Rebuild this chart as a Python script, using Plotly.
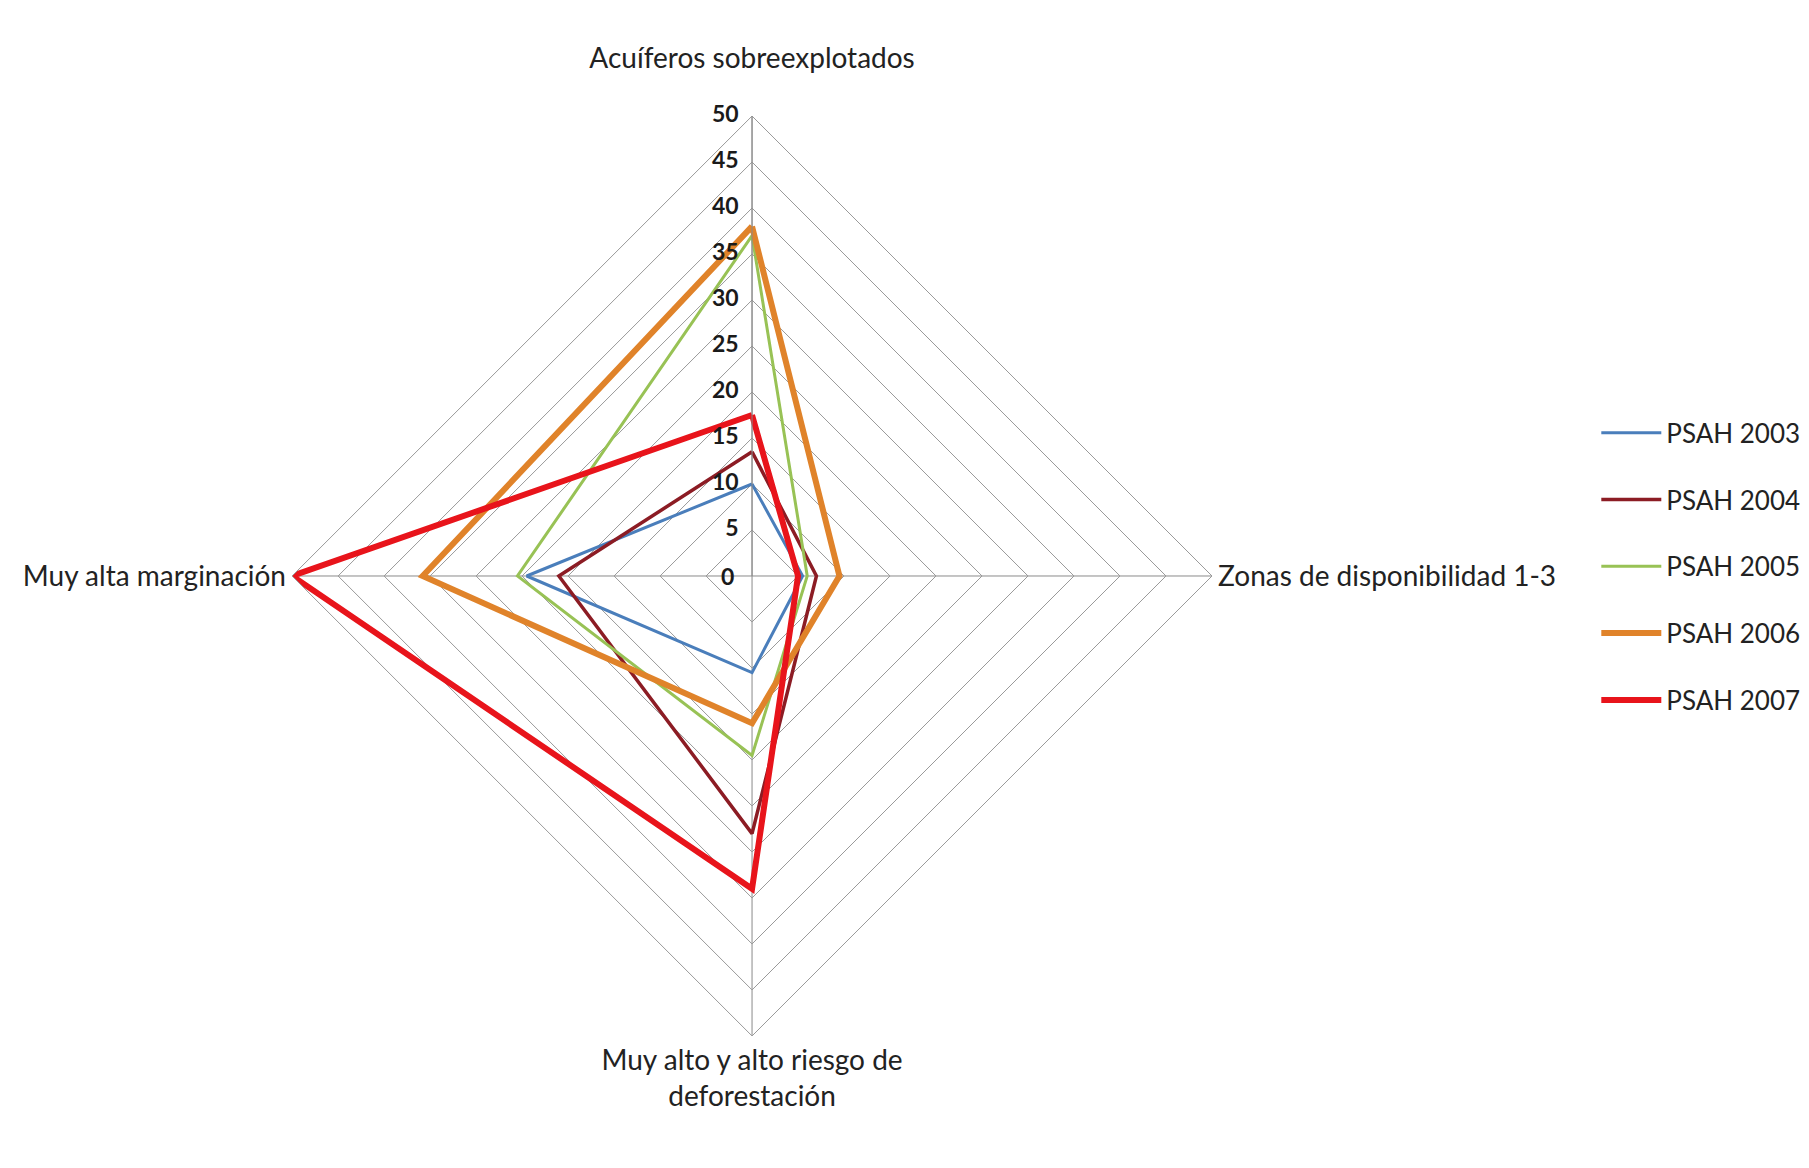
"""Radar chart: PSAH 2003-2007 by criterion."""

import plotly.graph_objects as go

CATEGORIES = [
    "Acuíferos sobreexplotados<br> ",
    "Zonas de disponibilidad 1-3",
    "Muy alto y alto riesgo de<br>deforestación",
    "Muy alta marginación",
]

SERIES_NAMES = ["PSAH 2003", "PSAH 2004", "PSAH 2005", "PSAH 2006", "PSAH 2007"]
PSAH_2003 = [10, 5.5, 10.5, 24.5]
PSAH_2004 = [13.5, 7, 28, 21]
PSAH_2005 = [37, 6, 19.5, 25.5]
PSAH_2006 = [38, 9.5, 16, 35.8]
PSAH_2007 = [17.5, 5, 34, 50]

RADIAL_TICKS = list(range(0, 55, 5))

COLORS = ["#4A7EBB", "#8C1C24", "#98C255", "#E0832A", "#E8141B"]
WIDTHS = [3, 3.5, 3, 6, 6]

POLAR_X = [0.157, 0.6656]
POLAR_Y = [0.1199, 0.9075]
TICK_FONT = dict(family="Lato", size=23, color="#1a1a1a", weight="bold")
# invisible trailing digit keeps the scale numbers clear of the spoke
PAD = "<span style='color:rgba(0,0,0,0)'>0</span>"

fig = go.Figure()
for name, values, color, width in zip(
    SERIES_NAMES,
    [PSAH_2003, PSAH_2004, PSAH_2005, PSAH_2006, PSAH_2007],
    COLORS,
    WIDTHS,
):
    fig.add_trace(
        go.Scatterpolar(
            r=values + values[:1],
            theta=CATEGORIES + CATEGORIES[:1],
            name=name,
            legendgroup=name,
            mode="lines",
            line=dict(color=color, width=width),
        )
    )

# radial scale numbers, set left of the vertical spoke like the Excel original
fig.add_trace(
    go.Scatterpolar(
        r=RADIAL_TICKS[1:],
        theta=[CATEGORIES[0]] * (len(RADIAL_TICKS) - 1),
        mode="text",
        text=[f"{v}{PAD}" for v in RADIAL_TICKS[1:]],
        textposition="middle left",
        textfont=TICK_FONT,
        showlegend=False,
        hoverinfo="skip",
        cliponaxis=False,
    )
)

# the centre label (r = 0) is not drawn by the text trace, so place it at the
# polar centre directly
fig.add_annotation(
    x=sum(POLAR_X) / 2,
    y=sum(POLAR_Y) / 2,
    xref="paper",
    yref="paper",
    text=str(RADIAL_TICKS[0]),
    showarrow=False,
    xanchor="right",
    yanchor="middle",
    xshift=-16,
    font=TICK_FONT,
)

fig.update_layout(
    width=1809,
    height=1168,
    paper_bgcolor="white",
    plot_bgcolor="white",
    font=dict(family="Lato", color="#222222", size=26),
    margin=dict(l=0, r=0, t=0, b=0),
    polar=dict(
        bgcolor="white",
        gridshape="linear",
        domain=dict(x=POLAR_X, y=POLAR_Y),
        radialaxis=dict(
            range=[0, 50],
            tickvals=RADIAL_TICKS,
            angle=90,
            showticklabels=False,
            showline=True,
            linecolor="#8a8a8a",
            linewidth=1,
            gridcolor="#9a9a9a",
            gridwidth=1,
            ticks="",
        ),
        angularaxis=dict(
            rotation=90,
            direction="clockwise",
            showline=True,
            linecolor="#9a9a9a",
            linewidth=1,
            gridcolor="#8a8a8a",
            gridwidth=1,
            ticks="",
            tickfont=dict(family="Lato", size=28, color="#222222"),
        ),
    ),
    legend=dict(
        x=0.878,
        xanchor="left",
        y=0.522,
        yanchor="middle",
        font=dict(family="Lato", size=26, color="#222222"),
        tracegroupgap=30,
        itemwidth=60,
        bgcolor="rgba(0,0,0,0)",
    ),
)

fig.write_html("out.html")
